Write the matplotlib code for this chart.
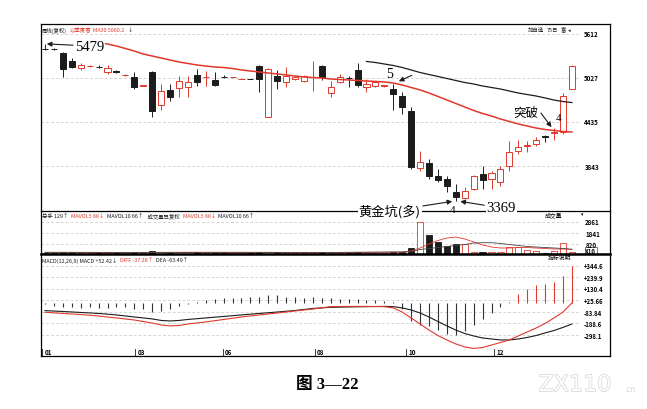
import matplotlib
matplotlib.use("Agg")
import numpy as np
import matplotlib.pyplot as plt
from matplotlib.patches import Rectangle
import matplotlib.patheffects as pe

plt.rcParams['font.family'] = ['Noto Sans CJK SC', 'DejaVu Sans']

# weekly candles (index 0..59), prices
open_ = [5415, 5415, 5353, 5254, 5156, 5180, 5175, 5103, 5110, 5060,
         5040, 4915, 5107, 4665, 4862, 4888, 4902, 5063, 5030, 4996,
         5040, 5030, 5005, 5010, 5187, 4500, 5053, 4964, 5009, 4978,
         5030, 5187, 4817, 4964, 5025, 5134, 4906, 4919, 4915, 4875,
         4785, 4584, 3812, 3883, 3705, 3669, 3491, 3410, 3535, 3736,
         3669, 3625, 3839, 4048, 4110, 4138, 4249, 4290, 4295, 4875]
close = [5410, 5405, 5143, 5170, 5197, 5185, 5165, 5156, 5105, 5066,
         4898, 4922, 4584, 4852, 4772, 4982, 4969, 4973, 5040, 4933,
         5032, 5036, 5010, 5008, 5009, 5143, 4978, 5053, 5040, 5053,
         5040, 5032, 4902, 5040, 5018, 4933, 4942, 4965, 4922, 4808,
         4638, 3826, 3893, 3713, 3660, 3571, 3424, 3512, 3705, 3660,
         3749, 3803, 4035, 4094, 4120, 4196, 4232, 4300, 4785, 5187]
high = [5479, 5430, 5370, 5290, 5220, 5195, 5200, 5200, 5130, 5075,
        5100, 4930, 5110, 4940, 4940, 5050, 5050, 5143, 5115, 5100,
        5060, 5040, 5012, 5012, 5195, 5150, 5130, 5170, 5050, 5060,
        5254, 5195, 4987, 5080, 5053, 5223, 5009, 4980, 4935, 4942,
        4835, 4640, 4048, 3937, 3803, 3709, 3602, 3560, 3720, 3843,
        3776, 3843, 4182, 4190, 4182, 4230, 4255, 4350, 4820, 5190]
low = [5400, 5395, 5036, 5150, 5130, 5175, 5150, 5080, 5085, 5050,
       4870, 4910, 4500, 4594, 4714, 4770, 4770, 4915, 4915, 4920,
       5020, 5025, 5003, 5003, 4835, 4500, 4875, 4900, 5000, 4970,
       4852, 5000, 4768, 4950, 4900, 4902, 4835, 4905, 4905, 4594,
       4540, 3803, 3780, 3669, 3629, 3495, 3369, 3395, 3520, 3535,
       3535, 3575, 3780, 4010, 4035, 4110, 4165, 4190, 4270, 4870]

ma30_start = 6
ma30 = [5498, 5478, 5451, 5418, 5384, 5344, 5317, 5290, 5264, 5237,
        5217, 5197, 5183, 5170, 5163, 5150, 5130, 5116, 5103, 5089,
        5076, 5063, 5049, 5036, 5029, 5022, 5009, 5002, 4996, 4989,
        4982, 4976, 4969, 4955, 4929, 4895, 4862, 4821, 4775, 4728,
        4681, 4634, 4587, 4547, 4513, 4473, 4440, 4406, 4379, 4352,
        4332, 4319, 4305, 4299]
ma60_start = 36
ma60 = [5244, 5230, 5210, 5190, 5163, 5130, 5096, 5069, 5043, 5016,
        4989, 4962, 4942, 4915, 4895, 4875, 4848, 4821, 4801, 4781,
        4755, 4727, 4707, 4693]
price_labels = [5612, 5027, 4435, 3843]

volume = [90, 60, 150, 110, 70, 60, 80, 70, 60, 60,
          110, 70, 200, 150, 90, 110, 100, 110, 80, 80,
          60, 50, 40, 40, 120, 160, 100, 90, 60, 70,
          90, 110, 80, 70, 60, 110, 80, 60, 50, 120,
          170, 524, 2861, 1643, 1038, 677, 831, 831, 135, 135,
          110, 135, 610, 610, 290, 225, 75, 225, 920, 160]
mavol5_idx = [0, 8, 16, 24, 32, 40] + list(range(41, 60))
mavol5 = [100, 90, 110, 100, 90, 120,
          226, 497, 858, 1174, 1400, 1490, 1309, 1038, 768, 587,
          497, 497, 542, 542, 497, 452, 406, 406, 379]
mavol10_idx = [0, 8, 16, 24, 32, 41] + list(range(42, 60))
mavol10 = [110, 100, 100, 105, 95, 150,
           361, 452, 542, 632, 722, 813, 948, 975, 975, 903,
           813, 722, 632, 587, 542, 497, 452, 379]
vol_labels = [2861, 1841, 820]

macd_hist = [-10, -25, -35, -40, -45, -40, -45, -50, -40, -35,
             -55, -60, -85, -70, -60, -25, -5, 10, 25, 35,
             45, 45, 50, 55, 60, 75, 70, 60, 55, 50,
             55, 50, 45, 40, 35, 40, 30, 25, 15, 8,
             -56, -164, -201, -211, -251, -288, -297, -257, -201, -148,
             -96, -40, 5, 84, 130, 167, 176, 192, 253, 346]
line_idx = [0, 2, 4, 6, 8, 10, 12, 13, 14, 15, 16, 18, 20, 22, 24, 26, 28,
            30, 32, 34, 36, 38] + list(range(39, 60))
dea = [-71, -79, -88, -97, -111, -130, -148, -162, -167, -162, -153, -139,
       -125, -111, -97, -84, -70, -51, -40, -37, -34, -32,
       -34, -46, -65, -93, -130, -172, -213, -251, -283, -306, -325,
       -334, -343, -343, -334, -320, -302, -278, -255, -227, -195]
diff = [-86, -97, -107, -121, -139, -158, -186, -204, -213, -209, -195, -176,
        -153, -130, -111, -93, -74, -56, -34, -32, -32, -34,
        -46, -84, -139, -195, -251, -302, -343, -380, -408, -422, -413,
        -390, -367, -343, -306, -269, -232, -190, -139, -84, 0]
macd_labels = ['+344.6', '+239.9', '+130.4', '+25.66', '-83.84', '-188.6', '-298.1']
month_pos = [-0.3, 10.1, 19.9, 30.2, 40.4, 50.3]
month_labels = ['01', '03', '06', '08', '10', '12']

RED = '#e2372b'
BLK = '#1c1c1c'
GRID = '#c4c4c4'
W, H = 647, 410
n = len(close)


def box(x0, y0, x1, y1):
    return [x0 / W, 1 - y1 / H, (x1 - x0) / W, (y1 - y0) / H]


fig = plt.figure(figsize=(6.47, 4.10), dpi=100)
ax_k = fig.add_axes(box(41, 25, 610, 212))
ax_v = fig.add_axes(box(41, 212, 610, 254.5))
ax_m = fig.add_axes(box(41, 254.5, 610, 357))
for ax in (ax_k, ax_v, ax_m):
    ax.set_xlim(-0.45, 63.27)
    ax.set_xticks([])
    ax.set_yticks([])
    for s in ax.spines.values():
        s.set_linewidth(0.9)
ax_v.patch.set_visible(False)
ax_v.spines['top'].set_visible(False)
ax_m.spines['top'].set_linewidth(1.8)
ax_k.set_ylim(3240, 5746)
ax_v.set_ylim(0, 3838)
ax_m.set_ylim(-492, 459)

# --- candles
ax_k.hlines(price_labels, -0.45, 59.8, colors=GRID, linestyles=(0, (4, 3)), lw=0.5, zorder=0)
for i in range(n):
    o, c, h, l = open_[i], close[i], high[i], low[i]
    up = c >= o
    col = RED if up else BLK
    top, bot = max(o, c), min(o, c)
    ax_k.vlines(i, top, h, color=col, lw=0.7, zorder=2)
    ax_k.vlines(i, l, bot, color=col, lw=0.7, zorder=2)
    ax_k.add_patch(Rectangle((i - 0.34, bot), 0.68, top - bot,
                             facecolor='white' if up else col, edgecolor=col,
                             lw=0.7, zorder=3))
ax_k.plot(np.arange(ma30_start, ma30_start + len(ma30)), ma30, color=RED, lw=1.1, zorder=4)
ax_k.plot(np.arange(ma60_start, ma60_start + len(ma60)), ma60, color=BLK, lw=0.9, zorder=4)
for v in price_labels:
    ax_k.text(60.4, v, str(v), fontsize=4.5, weight='bold', va='center', ha='left')

serif = ['Liberation Serif', 'Noto Sans CJK SC']
arrow = dict(arrowstyle='-|>', color=BLK, lw=0.8, mutation_scale=7, shrinkA=1, shrinkB=0)
wbox = dict(fc='white', ec='none', pad=0.6)

ax_k.annotate('5479', xy=(0.2, high[0]), xytext=(31, -1.5), textcoords='offset points',
              ha='center', va='center', fontsize=10.5, family=serif, bbox=wbox,
              arrowprops=arrow, zorder=6)
ma39 = ma30[39 - ma30_start]
ax_k.annotate('', xy=(39.2, ma39), xytext=(13, 6), textcoords='offset points',
              arrowprops=dict(arrow, shrinkB=3), zorder=6)
ax_k.annotate('5', xy=(39.2, ma39), xytext=(-3.6, 7), textcoords='offset points',
              ha='center', va='center', fontsize=10, family=serif, zorder=6)
ma57 = ma30[57 - ma30_start]
ax_k.annotate('', xy=(57, ma57), xytext=(-10, 13.3), textcoords='offset points',
              arrowprops=dict(arrow, shrinkB=3), zorder=6)
ax_k.annotate('突破', xy=(57, ma57), xytext=(-20, 14), textcoords='offset points',
              ha='center', va='center', fontsize=9, zorder=6)
ax_k.annotate('4', xy=(57, ma57), xytext=(3, 9.7), textcoords='offset points',
              ha='center', va='center', fontsize=8, family=serif, zorder=6)
ax_k.annotate('黄金坑(多)', xy=(45.6, low[46]), xytext=(-45, -7), textcoords='offset points',
              ha='center', va='center', fontsize=9.5, bbox=wbox, arrowprops=arrow,
              annotation_clip=False, zorder=6)
ax_k.annotate('4', xy=(45.6, low[46]), xytext=(0, -5.5), textcoords='offset points',
              ha='center', va='center', fontsize=8, family=serif, annotation_clip=False, zorder=6)
ax_k.annotate('3369', xy=(46.5, low[46]), xytext=(29.5, -4.7), textcoords='offset points',
              ha='center', va='center', fontsize=10.5, family=serif, bbox=wbox,
              arrowprops=arrow, annotation_clip=False, zorder=6)

# --- volume
ax_v.hlines(vol_labels, -0.45, 59.8, colors=GRID, linestyles=(0, (4, 3)), lw=0.5, zorder=0)
ups = [close[i] >= open_[i] for i in range(n)]
ax_v.bar(np.arange(n), volume, width=0.7,
         color=['white' if u else BLK for u in ups],
         edgecolor=[RED if u else BLK for u in ups], linewidth=0.6, zorder=2)
ax_v.plot(mavol5_idx, mavol5, color=RED, lw=0.6, zorder=3)
ax_v.plot(mavol10_idx, mavol10, color='#444444', lw=0.6, zorder=3)
for v in vol_labels:
    ax_v.text(60.5, v, str(v), fontsize=4.5, weight='bold', va='center', ha='left')
ax_v.text(60.5, 230, 'X10', fontsize=4.3, weight='bold', va='center', ha='left',
          bbox=dict(fc='none', ec=BLK, lw=0.4, pad=0.3))
ax_v.text(57.0, 3550, '成交量', fontsize=4.2, va='center', ha='center')
ax_v.text(60.2, 3600, '▾', fontsize=3.5, va='center', ha='center')

# --- MACD
macd_vals = [float(s) for s in macd_labels]
ax_m.hlines(macd_vals, -0.45, 59.8, colors=GRID, linestyles=(0, (4, 3)), lw=0.5, zorder=0)
for i, v in enumerate(macd_hist):
    col = RED if (v > 0 and i > 45) else '#333333'
    ax_m.vlines(i, 0, v, color=col, lw=0.8, zorder=2)
ax_m.plot(line_idx, dea, color=BLK, lw=0.8, zorder=3)
ax_m.plot(line_idx, diff, color=RED, lw=0.8, zorder=3)
for v, s in zip(macd_vals, macd_labels):
    ax_m.text(60.3, v, s, fontsize=4.3, weight='bold', va='center', ha='left')
ax_m.text(57.6, 425, '指标说明', fontsize=4.2, va='center', ha='center')
for p, s in zip(month_pos, month_labels):
    ax_m.axvline(p, ymin=0, ymax=0.07, color=BLK, lw=0.6)
    ax_m.text(p + 0.25, 0.045, s, transform=ax_m.get_xaxis_transform(),
              fontsize=4.5, weight='bold', va='center', ha='left')

# --- panel headers, laid out left to right without overlap
renderer = fig.canvas.get_renderer()


def header(x, y, parts, gap=2.5):
    for s, c in parts:
        t = fig.text(x / W, 1 - y / H, s, fontsize=3.9, color=c, va='center', ha='left')
        bb = t.get_window_extent(renderer)
        x = bb.x1 + gap


header(42, 30.5, [('周线(复权)', BLK), ('以季度看', RED), ('MA30 5060.2', RED), ('↓', BLK)])
header(528, 30.5, [('加自选', BLK), ('75日', BLK), ('富', BLK), ('◂', BLK)])
header(42, 217, [('总手 129↑', BLK), ('MAVOL5 88↓', RED), ('MAVOL10 66↑', BLK),
                 ('  成交量已复权', BLK), ('MAVOL5 88↓', RED), ('MAVOL10 66↑', BLK)])
header(42, 261, [('MACD(12,26,9) MACD +52.42↓', BLK), ('DIFF -37.28↑', RED),
                 ('DEA -63.49↑', BLK)])

fig.text(327 / W, 1 - 385 / H, '图 3—22', ha='center', va='center', fontsize=12,
         weight='bold', family=serif)
fig.text(575 / W, 1 - 386 / H, 'ZX110', ha='center', va='center', fontsize=16,
         color='white', family='DejaVu Sans',
         path_effects=[pe.withStroke(linewidth=0.9, foreground='#cfcfcf')])
fig.text(630 / W, 1 - 390 / H, '.cn', ha='center', va='center', fontsize=6, color='#d8d8d8')

fig.savefig('out.png', dpi=100)
